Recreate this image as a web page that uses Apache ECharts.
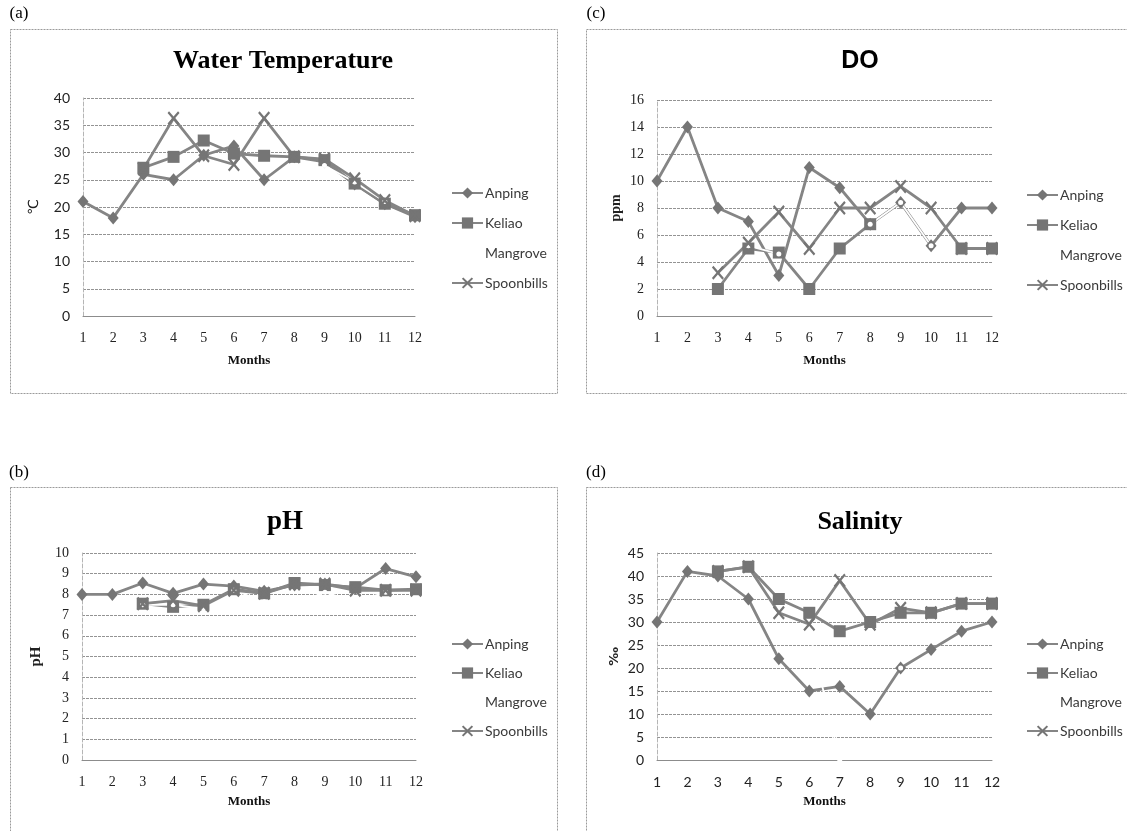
<!DOCTYPE html>
<html><head><meta charset="utf-8">
<script src="https://cdn.jsdelivr.net/npm/echarts@6/dist/echarts.min.js"></script>
<style>html,body{margin:0;padding:0;background:#fff}#c{width:1127px;height:831px}</style>
</head><body><div id="c"></div>
<script>
const months = ['1','2','3','4','5','6','7','8','9','10','11','12'];
const seriesNames = ['Anping','Keliao','Mangrove','Spoonbills'];

// (a) Water Temperature (°C)
const tempAnping     = [21, 18, 26, 25, 29.5, 31.2, 25, 29.2, 28.3, 24.2, 20.6, 18.2];
const tempKeliao     = [null, null, 27.2, 29.2, 32.2, 29.8, 29.4, 29.2, 28.6, 24.3, 20.6, 18.5];
const tempMangrove   = [null, null, null, null, null, null, null, null, 27.6, 24.6, 21, null];
const tempSpoonbills = [null, null, 27, 36.3, 29.4, 27.8, 36.3, 29.2, 28.8, 25.2, 21.2, 18.4];
const tempTicks = [0, 40, 5];

// (c) DO (ppm)
const doAnping     = [10, 14, 8, 7, 3, 11, 9.5, 6.8, 8.4, 5.2, 8, 8];
const doKeliao     = [null, null, 2, 5, 4.7, 2, 5, 6.8, null, null, 5, 5];
const doMangrove   = [null, null, 3, 5.2, 4.6, null, null, 6.8, 8.4, 5.2, null, null];
const doSpoonbills = [null, null, 3.2, 5.4, 7.7, 5, 8, 8, 9.6, 8, 5, 5];
const doTicks = [0, 16, 2];

// (b) pH
const phAnping     = [8, 8, 8.55, 8.05, 8.5, 8.4, 8.15, 8.45, 8.5, 8.3, 9.25, 8.85];
const phKeliao     = [null, null, 7.55, 7.4, 7.5, 8.25, 8.05, 8.55, 8.45, 8.35, 8.2, 8.25];
const phMangrove   = [null, null, 7.5, 7.5, 7.3, 8.2, 7.65, 7.55, 8.1, 7.65, 8.1, null];
const phSpoonbills = [null, null, 7.55, 7.7, 7.45, 8.2, 8.05, 8.5, 8.5, 8.2, 8.2, 8.2];
const phTicks = [0, 10, 1];

// (d) Salinity (‰)
const salAnping     = [30, 41, 40, 35, 22, 15, 16, 10, 20, 24, 28, 30];
const salKeliao     = [null, null, 41, 42, 35, 32, 28, 30, 32, 32, 34, 34];
const salMangrove   = [null, null, null, null, null, 28, 0, null, 20, null, null, null];
const salSpoonbills = [null, null, 41, 42, 32, 29.5, 39, 29.5, 33, 32, 34, 34];
const salTicks = [0, 45, 5];

const LINE = '#858585', MARK = '#757575';
const XPATH = 'path://M0,1.5L1.5,0L6,4.5L10.5,0L12,1.5L7.5,6L12,10.5L10.5,12L6,7.5L1.5,12L0,10.5L4.5,6Z';

function mk(idx, name, data) {
  const base = {name, type:'line', xAxisIndex:idx, yAxisIndex:idx, data,
    lineStyle:{color:LINE, width:2.8}, itemStyle:{color:MARK}, emphasis:{disabled:true}, animation:false};
  if (name === 'Anping') { base.symbol = 'diamond'; base.symbolSize = [11, 13]; }
  else if (name === 'Keliao') { base.symbol = 'rect'; base.symbolSize = 12; }
  else if (name === 'Mangrove') { base.symbol = 'circle'; base.symbolSize = 5;
    base.lineStyle = {color:'#ffffff', width:1.8}; base.itemStyle = {color:'#ffffff'}; }
  else { base.symbol = XPATH; base.symbolSize = [12, 14]; }
  return base;
}

const panels = [
  {grid:{left:83, top:98, width:332, height:218}, data:[tempAnping,tempKeliao,tempMangrove,tempSpoonbills], ticks:tempTicks,
   yName:'℃', yNameFont:{fontFamily:'DejaVu Sans', fontSize:14, fontWeight:'normal'}, yGap:42,
   yLabFont:'Lato', yLabSize:14, xLabFont:'Liberation Serif', legendLeft:446, legendTop:181, legendGap:16, xNameGap:38},
  {grid:{left:657, top:100, width:335, height:216}, data:[doAnping,doKeliao,doMangrove,doSpoonbills], ticks:doTicks,
   yName:'ppm', yNameFont:{fontFamily:'Liberation Serif', fontSize:14, fontWeight:'bold'}, yGap:34,
   yLabFont:'Liberation Serif', yLabSize:14, xLabFont:'Liberation Serif', legendLeft:1021, legendTop:183, legendGap:16, xNameGap:38},
  {grid:{left:82, top:553, width:334, height:207}, data:[phAnping,phKeliao,phMangrove,phSpoonbills], ticks:phTicks,
   yName:'pH', yNameFont:{fontFamily:'Liberation Serif', fontSize:15, fontWeight:'bold'}, yGap:38,
   yLabFont:'Liberation Serif', yLabSize:14, xLabFont:'Liberation Serif', legendLeft:446, legendTop:632, legendGap:15, xNameGap:35},
  {grid:{left:657, top:553, width:335, height:207}, data:[salAnping,salKeliao,salMangrove,salSpoonbills], ticks:salTicks,
   yName:'‰', yNameFont:{fontFamily:'DejaVu Sans', fontSize:13, fontWeight:'bold'}, yGap:36,
   yLabFont:'Lato', yLabSize:14, xLabFont:'Lato', legendLeft:1021, legendTop:632, legendGap:15, xNameGap:35}
];

const grids = [], xAxes = [], yAxes = [], series = [], legends = [];
panels.forEach((p, i) => {
  grids.push(p.grid);
  xAxes.push({type:'category', gridIndex:i, data:months, boundaryGap:false,
    axisLine:{show:true, lineStyle:{color:'#8c8c8c', width:1}}, axisTick:{show:false},
    axisLabel:{color:'#222', fontSize:14, fontFamily:p.xLabFont, margin:15},
    name:'Months', nameLocation:'middle', nameGap:p.xNameGap,
    nameTextStyle:{fontFamily:'Liberation Serif', fontWeight:'bold', fontSize:13, color:'#111'}});
  yAxes.push({type:'value', gridIndex:i, min:p.ticks[0], max:p.ticks[1], interval:p.ticks[2],
    axisLine:{show:true, lineStyle:{color:'#b5b5b5', type:'dashed', width:1}}, axisTick:{show:false},
    splitLine:{show:true, lineStyle:{color:'#939393', type:[3,1], width:1}},
    axisLabel:{color:'#222', fontSize:p.yLabSize, fontFamily:p.yLabFont, margin:13},
    name:p.yName, nameLocation:'middle', nameRotate:90, nameGap:p.yGap,
    nameTextStyle:Object.assign({color:'#222'}, p.yNameFont)});
  seriesNames.forEach((n, k) => series.push(mk(i, n, p.data[k])));
  legends.push({orient:'vertical', left:p.legendLeft, top:p.legendTop, itemWidth:31, itemHeight:14,
    itemGap:p.legendGap, selectedMode:false, data:seriesNames,
    textStyle:{fontFamily:'Lato', fontSize:14, color:'#3a3a3a', padding:[0,0,0,-3]}});
});

function border(x, y, w, h) {
  return {type:'rect', shape:{x:x, y:y, width:w, height:h}, silent:true,
    style:{fill:null, stroke:'#9a9a9a', lineWidth:1, lineDash:[2,1]}};
}
function txt(x, y, t, font) {
  return {type:'text', x:x, y:y, silent:true,
    style:{text:t, font:font, fill:'#000', textAlign:'center', textVerticalAlign:'middle'}};
}

const chart = echarts.init(document.getElementById('c'));
chart.setOption({
  backgroundColor:'#fff',
  animation:false,
  grid:grids, xAxis:xAxes, yAxis:yAxes, series:series, legend:legends,
  graphic:[
    border(10.5, 29.5, 547, 364), border(586.5, 29.5, 560, 364),
    border(10.5, 487.5, 547, 360), border(586.5, 487.5, 560, 360),
    txt(19, 14, '(a)', '17px "Liberation Serif"'),
    txt(596, 14, '(c)', '17px "Liberation Serif"'),
    txt(19, 473, '(b)', '17px "Liberation Serif"'),
    txt(596, 473, '(d)', '17px "Liberation Serif"'),
    txt(283, 61, 'Water Temperature', 'bold 26px "Liberation Serif"'),
    txt(860, 61, 'DO', 'bold 25px "Liberation Sans"'),
    txt(285, 522, 'pH', 'bold 27px "Liberation Serif"'),
    txt(860, 522, 'Salinity', 'bold 26px "Liberation Serif"')
  ]
});
</script>
</body></html>
